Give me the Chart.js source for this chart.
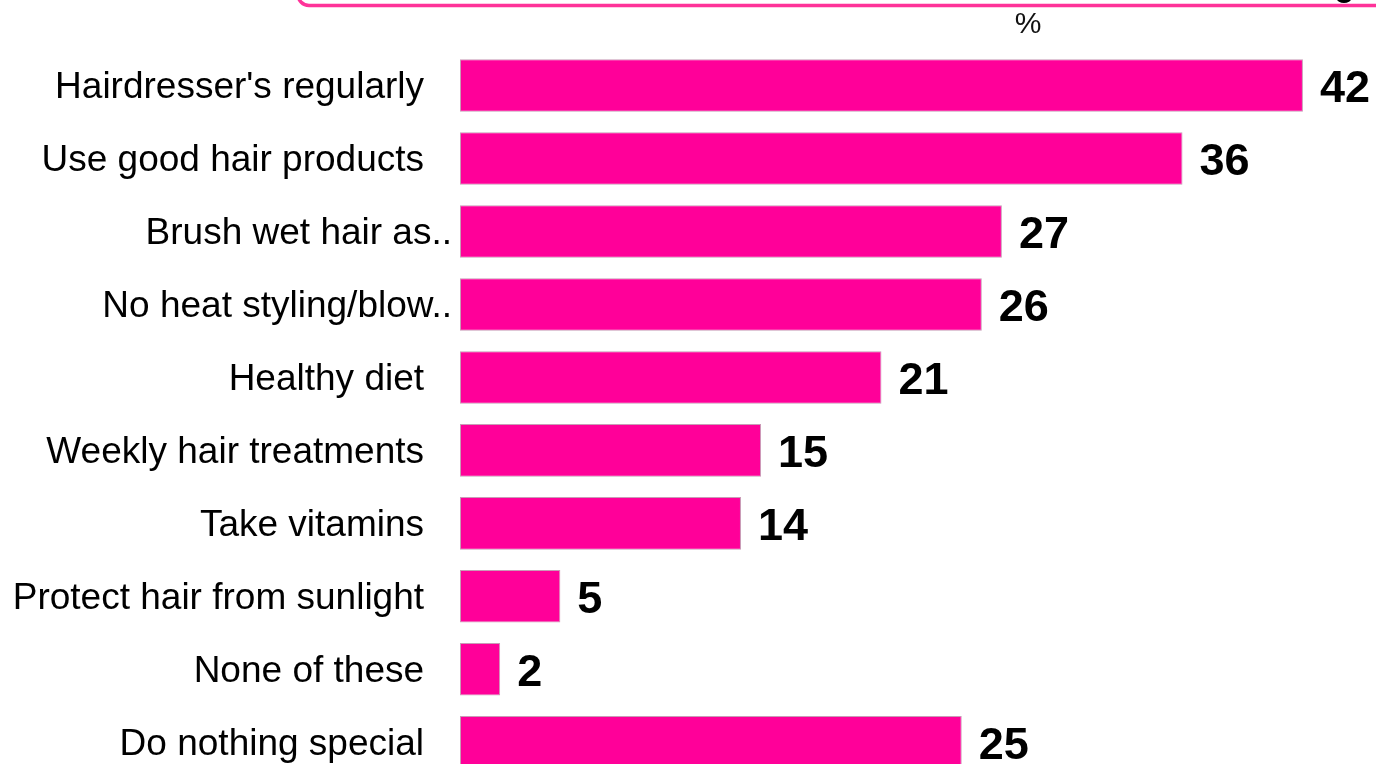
<!DOCTYPE html>
<html>
<head>
<meta charset="utf-8">
<title>Hair care habits</title>
<script src="https://cdn.jsdelivr.net/npm/chart.js@4.4.1/dist/chart.umd.min.js"></script>
<style>
  html, body { margin: 0; padding: 0; background: #fff; overflow: hidden; }
  #chartBox { position: relative; width: 1376px; height: 809px; }
</style>
</head>
<body>
<div id="chartBox"><canvas id="myChart"></canvas></div>
<script>
const answers = [
  "Hairdresser's regularly",
  'Use good hair products',
  'Brush wet hair as..',
  'No heat styling/blow..',
  'Healthy diet',
  'Weekly hair treatments',
  'Take vitamins',
  'Protect hair from sunlight',
  'None of these',
  'Do nothing special'
];
const shares = [42, 36, 27, 26, 21, 15, 14, 5, 2, 25];
const unitLabel = '%';

const FONT = '"Liberation Sans", Arial, sans-serif';

// pink frame of the heading box, the "%" caption and the numbers at bar ends
const decorations = {
  id: 'decorations',
  afterDraw(chart) {
    const ctx = chart.ctx;
    ctx.save();
    ctx.strokeStyle = '#ff3399';
    ctx.lineWidth = 3.5;
    ctx.beginPath();
    ctx.roundRect(298, -80, 1200, 85.5, 11);
    ctx.stroke();

    ctx.fillStyle = '#000';
    ctx.beginPath();
    ctx.ellipse(1344, -1, 7, 4, 0, 0, Math.PI * 2);
    ctx.fill();

    ctx.fillStyle = '#111';
    ctx.font = '30px ' + FONT;
    ctx.textAlign = 'center';
    ctx.textBaseline = 'alphabetic';
    ctx.fillText(unitLabel, 1028, 33);

    ctx.font = 'bold 45px ' + FONT;
    ctx.textAlign = 'left';
    ctx.fillStyle = '#000';
    chart.getDatasetMeta(0).data.forEach((bar, i) => {
      ctx.fillText(String(shares[i]), bar.x + 17, bar.y + 17);
    });
    ctx.restore();
  }
};

const ctx = document.getElementById('myChart').getContext('2d');
const myChart = new Chart(ctx, {
  type: 'bar',
  data: {
    labels: answers,
    datasets: [{
      data: shares,
      backgroundColor: '#ff0099',
      borderColor: '#c99bb6',
      borderWidth: 1,
      borderSkipped: false,
      barPercentage: 0.72,
      categoryPercentage: 1
    }]
  },
  options: {
    indexAxis: 'y',
    responsive: true,
    maintainAspectRatio: false,
    animation: false,
    layout: { padding: { top: 49, right: 0, bottom: 0, left: 0 } },
    plugins: {
      legend: { display: false },
      tooltip: { enabled: false }
    },
    scales: {
      x: {
        display: false,
        min: 0,
        max: 45.64
      },
      y: {
        afterFit(scale) { scale.width = 460; },
        grid: { display: false, drawTicks: false },
        border: { display: false },
        ticks: {
          padding: 8,
          labelOffset: 2,
          color: '#000',
          font: { family: FONT, size: 37 },
          // cut-off answers let their dots run into the gap before the bars
          callback(value, index) {
            const name = answers[index];
            return name.endsWith('..') ? name : name + '\u00a0\u00a0\u2009';
          }
        }
      }
    }
  },
  plugins: [decorations]
});
</script>
</body>
</html>
